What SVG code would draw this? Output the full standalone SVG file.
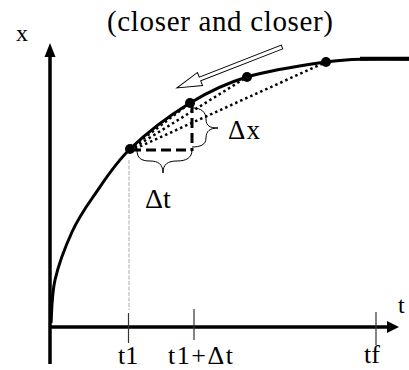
<svg xmlns="http://www.w3.org/2000/svg" width="409" height="370" viewBox="0 0 409 370">
<style>
text{font-family:"Liberation Serif","Times New Roman",serif;fill:#000}
.axis{stroke:#000;stroke-width:3.5;fill:none}
.tick{stroke:#333;stroke-width:1.2}
.dot{stroke:#000;stroke-width:2.5;stroke-dasharray:2.5 3;fill:none}
.dash{stroke:#000;stroke-width:3;stroke-dasharray:10 5;fill:none}
.brace{stroke:#000;stroke-width:1;fill:none}
.pt{fill:#000}
</style>
<rect width="409" height="370" fill="#fff"/>
<g id="axes">
<line class="axis" x1="50" y1="55" x2="50" y2="364"/>
<polygon points="50,43 44.5,57 55.5,57" fill="#000"/>
<line class="axis" x1="49" y1="327" x2="390" y2="327"/>
<polygon points="399,327 387,321 387,333" fill="#000"/>
<line class="tick" x1="128.5" y1="313" x2="128.5" y2="343"/>
<line class="tick" x1="194" y1="309" x2="194" y2="340"/>
<line class="tick" x1="376" y1="312" x2="376" y2="345"/>
<line x1="129" y1="160" x2="129" y2="310" stroke="#c8c8c8" stroke-width="1.5" stroke-dasharray="4 1.5"/>
</g>
<g id="curve">
<path d="M51,323 C51.7,315.8 51.5,295.2 55,280 C58.5,264.8 65.7,245.8 72,232 C78.3,218.2 83.3,210.8 93,197 C102.7,183.2 113.8,164.7 130,149 C146.2,133.3 170.5,115 190,103 C209.5,91 224.3,83.8 247,77 C269.7,70.2 305.5,65 326,62 C346.5,59 356.2,59.5 370,59 C383.8,58.5 402.5,59 409,59" fill="none" stroke="#000" stroke-width="3"/>
<line x1="360" y1="58.8" x2="409" y2="58.8" stroke="#000" stroke-width="4"/>
</g>
<g id="connectors">
<line class="dot" x1="130" y1="149" x2="190" y2="103"/>
<line class="dot" x1="130" y1="150" x2="247" y2="77"/>
<line class="dot" x1="130" y1="151" x2="326" y2="62"/>
<line class="dash" x1="131" y1="150" x2="192" y2="150"/>
<line class="dash" x1="192" y1="103" x2="192" y2="151"/>
<path class="brace" d="M137,150 C137,158 141,161 150,161 C158,161 163,164 163,173 C163,164 168,161 177,161 C186,161 192,158 192,150"/>
<path class="brace" d="M193,108 C201,108 206,112 206,119 C206,126 210,128 218,128 C210,128 206,131 206,138 C206,145 200,147 192,147"/>
<polygon points="0,-2 88,-2 88,-7 112.7,0 88,7 88,2 0,2" transform="translate(282,47) rotate(158.7)" fill="#fff" stroke="#000" stroke-width="1"/>
</g>
<g id="points">
<circle class="pt" cx="130" cy="149" r="5"/>
<circle class="pt" cx="190" cy="103" r="5"/>
<circle class="pt" cx="247" cy="77" r="5"/>
<circle class="pt" cx="326" cy="62" r="5"/>
</g>
<g id="labels">
<text x="107" y="31" font-size="29" textLength="226">(closer and closer)</text>
<text x="16" y="41" font-size="24">x</text>
<text x="398" y="313" font-size="24">t</text>
<text x="228" y="139" font-size="27" textLength="32">Δx</text>
<text x="145" y="208" font-size="28">Δt</text>
<text x="118" y="364" font-size="26">t1</text>
<text x="168" y="364" font-size="26" textLength="65">t1+Δt</text>
<text x="364" y="363" font-size="26">tf</text>
</g>
</svg>
